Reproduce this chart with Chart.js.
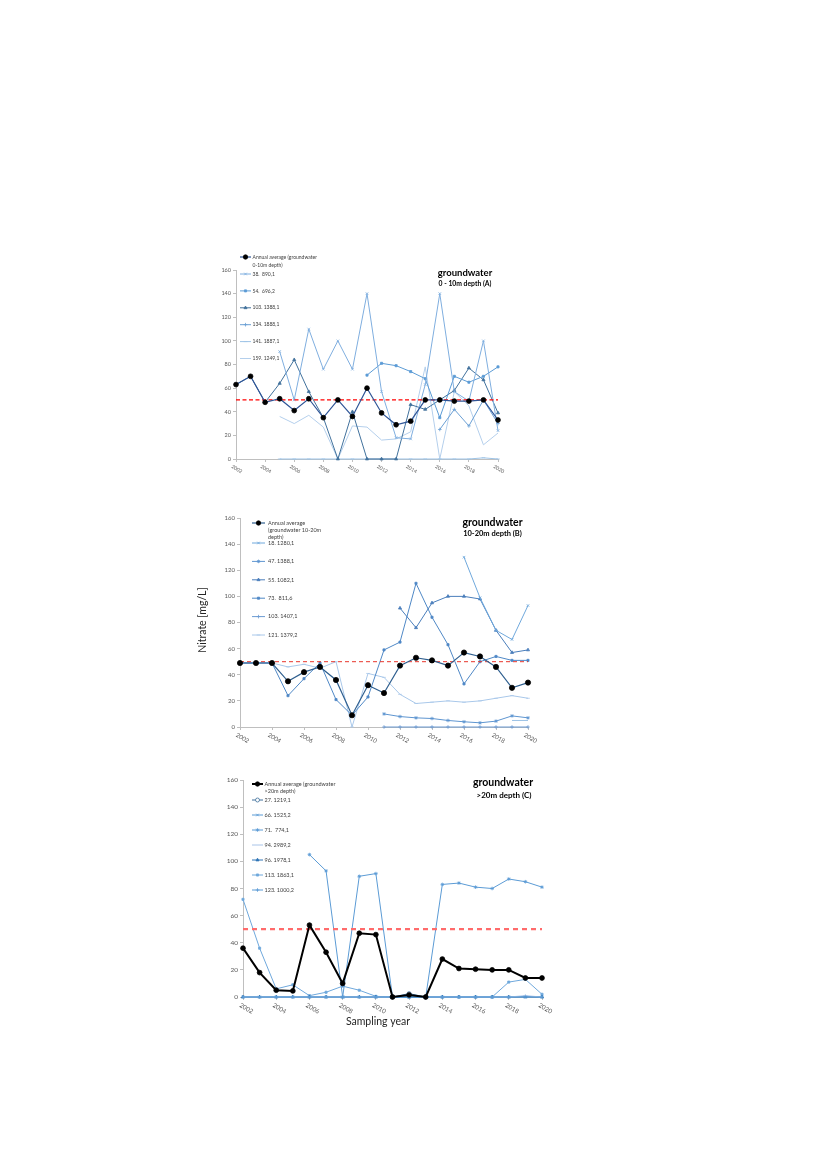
<!DOCTYPE html>
<html>
<head>
<meta charset="utf-8">
<script src="https://cdn.jsdelivr.net/npm/chart.js@4.4.1/dist/chart.umd.min.js"></script>
<style>
  html, body { margin: 0; padding: 0; background: #fff; }
  body { width: 827px; height: 1170px; position: relative; overflow: hidden; }
  canvas { position: absolute; }
  #chartA { left: 180px; top: 245px; }
  #chartB { left: 180px; top: 500px; }
  #chartC { left: 180px; top: 765px; }
</style>
</head>
<body>
<canvas id="chartA" width="340" height="240"></canvas>
<canvas id="chartB" width="360" height="250"></canvas>
<canvas id="chartC" width="380" height="270"></canvas>
<script>
// Data
const years = [2002, 2003, 2004, 2005, 2006, 2007, 2008, 2009, 2010, 2011,
  2012, 2013, 2014, 2015, 2016, 2017, 2018, 2019, 2020];
const nitrateLimit = 50; // mg/L

// Panel A: groundwater 0 - 10m depth
const avgA = [63, 70, 48, 51, 41, 51, 35, 50, 36, 60, 39, 29, 32, 50, 50, 49, 49, 50, 33];
const st38A = [null, null, null, 91, 50, 110, 76, 100, 76, 140, 57, 18, 17, 63, 140, 57, 49, 100, 24];
const st54A = [null, null, null, null, null, null, null, null, null, 71, 81, 79, 74, 68, 35, 70, 65, 70, 78];
const st103A = [63, 70, 48, 64, 84, 57, 35, 0, 40, 0, 0, 0, 46, 42, 50, 58, 77, 67, 39];
const st134A = [null, null, null, null, null, null, null, null, null, null, null, null, null, null, 25, 42, 28, 50, 30];
const st141A = [null, null, null, 0, 0, 0, 0, 0, 0, 0, 0, 0, 0, 0, 0, 0, 0, 1, 0];
const st159A = [null, null, null, 36, 30, 37, 27, 0, 28, 27, 16, 17, 23, 78, 0, 57, 45, 12, 22];

// Panel B: groundwater 10-20m depth
const avgB = [49, 49, 49, 35, 42, 46, 36, 9, 32, 26, 47, 53, 51, 47, 57, 54, 46, 30, 34];
const st18B = [null, null, null, null, null, null, null, null, null, null, null, null, null, null, 130, 99, 74, 67, 93];
const st47B = [null, null, null, null, null, null, null, null, null, 10, 8, 7, 6.5, 5, 4, 3.2, 4.5, 8.5, 7];
const st55B = [null, null, null, null, null, null, null, null, null, null, 91, 76, 95, 100, 100, 98, 74, 57, 59];
const st73B = [49, 49, 49, 24, 37, 49, 21, 9, 23, 59, 65, 110, 84, 63, 33, 50, 54, 51, 51];
const st103B = [null, null, null, null, null, null, null, null, null, 0, 0, 0, 0, 0, 0, 0, 0, 0, 0];
const st121B = [49, 49, 49, 46, 48, 45, 50, 0, 41, 38, 25, 18, 19, 20, 19, 20, 22, 24, 22];
const shortB = [null, null, null, null, null, null, null, null, null, null, null, null, null, null, null, null, null, 5, 5];

// Panel C: groundwater >20m depth
const avgC = [36, 18, 5, 4.5, 53, 33, 10, 47, 46, 0, 1.5, 0, 28, 21, 20.5, 20, 20, 14, 14];
const st27C = [null, null, null, null, null, null, null, null, null, 0, 2.5, 0, null, null, null, null, null, null, null];
const st66C = [0, 0, 0, 0, 0, 0, 0, 0, 0, 0, 0, 0, 0, 0, 0, 0, 0, 0, 0];
const st71C = [null, null, null, null, 105, 93, 0, 89, 91, 0, 0, 0, 83, 84, 81, 80, 87, 85, 81];
const st94C = [0, 0, 0, 0, 0, 0, 0, 0, 0, 0, 2, 0, 0, 0, 0, 0, 0, 1, 0];
const st96C = [0, 0, 0, 0, 0, 0, 0, 0, 0, 0, 0, 0, 0, 0, 0, 0, 0, 0, 0];
const st113C = [72, 36, 6, 9, 1, 3.5, 8, 5, 0.5, 0, 0, 0, 0, 0, 0, 0, 11, 13, 2];
const st123C = [0, 0, 0, 0, 0, 0, 0, 0, 0, 0, 0, 0, 0, 0, 0, 0, 0, 0.5, 0];

const FONT = "Lato, 'Open Sans', sans-serif";

function series(label, values, color, marker, extra) {
  return Object.assign({
    label: label,
    data: years.map((yr, i) => ({ x: yr, y: values[i] })),
    borderColor: color,
    backgroundColor: color,
    borderWidth: 1,
    pointStyle: marker || 'circle',
    pointRadius: marker ? 1.8 : 0,
    pointBorderWidth: 0.8,
    clip: false,
  }, extra || {});
}

function limitLine(color, width, dash) {
  return {
    label: 'limit',
    data: years.map((yr) => ({ x: yr, y: nitrateLimit })),
    borderColor: color,
    borderWidth: width,
    borderDash: dash,
    pointRadius: 0,
    clip: false,
    noLegend: true,
  };
}

// draws legend, titles and the slanted year labels
const panelDecor = {
  id: 'panelDecor',
  afterDraw(chart, args, opts) {
    const ctx = chart.ctx;
    const area = chart.chartArea;
    const xs = chart.scales.x;
    ctx.save();

    // year labels
    ctx.fillStyle = '#595959';
    ctx.font = opts.tickFont + 'px ' + FONT;
    ctx.textAlign = 'left';
    ctx.textBaseline = 'top';
    xs.ticks.forEach((t) => {
      ctx.save();
      ctx.translate(xs.getPixelForValue(t.value) + opts.tickDx, area.bottom + opts.tickDy);
      ctx.rotate(30 * Math.PI / 180);
      ctx.fillText(String(t.value), 0, 0);
      ctx.restore();
    });

    // legend
    const lg = opts.legend;
    let n = 0;
    chart.data.datasets.forEach((ds) => {
      if (ds.noLegend) return;
      const y = n === 0 ? lg.y0 : lg.y0 + lg.firstGap + (n - 1) * lg.step;
      n++;
      ctx.setLineDash([]);
      ctx.strokeStyle = ds.borderColor;
      ctx.lineWidth = ds.borderWidth;
      ctx.beginPath();
      ctx.moveTo(lg.x, y);
      ctx.lineTo(lg.x + lg.len, y);
      ctx.stroke();
      if (ds.pointRadius > 0) {
        ctx.fillStyle = ds.pointBackgroundColor || ds.backgroundColor;
        ctx.strokeStyle = ds.pointBorderColor || ds.borderColor;
        ctx.lineWidth = ds.pointBorderWidth;
        Chart.helpers.drawPoint(ctx, {
          pointStyle: ds.pointStyle, rotation: 0,
          radius: Math.min(ds.pointRadius, 2.2), borderWidth: ds.pointBorderWidth,
        }, lg.x + lg.len / 2, y);
      }
      ctx.fillStyle = '#404040';
      ctx.font = lg.font + 'px ' + FONT;
      ctx.textAlign = 'left';
      ctx.textBaseline = 'middle';
      ds.label.split('\n').forEach((line, k) => {
        ctx.fillText(line, lg.x + lg.len + lg.gap, y + k * lg.rowH);
      });
    });

    // titles
    (opts.texts || []).forEach((t) => {
      ctx.save();
      ctx.fillStyle = t.color || '#000';
      ctx.font = t.font + ' ' + FONT;
      ctx.textAlign = 'center';
      ctx.textBaseline = 'middle';
      ctx.translate(t.x, t.y);
      if (t.rot) ctx.rotate(t.rot * Math.PI / 180);
      ctx.fillText(t.text, 0, 0);
      ctx.restore();
    });
    ctx.restore();
  },
};

function zeroPadding(s) {
  s.paddingLeft = 0;
  s.paddingRight = 0;
  s.paddingTop = 0;
  s.paddingBottom = 0;
}

function makePanel(id, datasets, cfg) {
  return new Chart(document.getElementById(id), {
    type: 'line',
    data: { datasets: datasets },
    options: {
      responsive: false,
      animation: false,
      events: [],
      layout: { padding: cfg.padding },
      plugins: {
        legend: { display: false },
        tooltip: { enabled: false },
        panelDecor: cfg.decor,
      },
      scales: {
        x: {
          type: 'linear',
          min: 2002,
          max: 2020,
          ticks: { display: false, stepSize: 2 },
          grid: { drawOnChartArea: false, tickLength: 3, color: '#BFBFBF' },
          border: { color: '#BFBFBF' },
          afterFit(s) { s.height = 18; zeroPadding(s); },
        },
        y: {
          min: 0,
          max: 160,
          ticks: { stepSize: 20, color: '#595959', padding: 2, font: { size: cfg.yFont, family: FONT } },
          grid: { drawOnChartArea: false, tickLength: 3, color: '#BFBFBF' },
          border: { color: '#BFBFBF' },
          afterFit(s) { s.width = 24; zeroPadding(s); },
        },
      },
    },
    plugins: [panelDecor],
  });
}

// Panel A
makePanel('chartA', [
  series('Annual average (groundwater\n0-10m depth)', avgA, '#2F5597', 'circle',
    { pointRadius: 2.4, pointBackgroundColor: '#000', pointBorderColor: '#000', borderWidth: 1.2 }),
  limitLine('#FF0000', 1.3, [4, 2.5]),
  series('38.  890,1', st38A, '#7FAEDF', 'crossRot'),
  series('54.  696,2', st54A, '#5B9BD5', 'rect', { pointRadius: 1.5 }),
  series('103. 1388,1', st103A, '#41719C', 'triangle', { pointRadius: 1.8 }),
  series('134. 1888,1', st134A, '#6A9FD4', 'cross'),
  series('141. 1887,1', st141A, '#9DC3E6', 'line'),
  series('159. 1249,1', st159A, '#B4CFEC', null),
], {
  padding: { left: 32, right: 22, top: 25, bottom: 8 },
  yFont: 5.5,
  decor: {
    tickFont: 5, tickDx: -3, tickDy: 5,
    legend: { x: 60, len: 11, gap: 1.5, y0: 12, rowH: 8, firstGap: 17, step: 16.9, font: 5 },
    texts: [
      { text: 'groundwater', x: 285, y: 28, font: 'bold 9.5px' },
      { text: '0 - 10m depth (A)', x: 285, y: 38.5, font: 'bold 6.8px' },
    ],
  },
});

// Panel B
makePanel('chartB', [
  series('Annual average\n(groundwater 10-20m\ndepth)', avgB, '#2F5F8F', 'circle',
    { pointRadius: 2.6, pointBackgroundColor: '#000', pointBorderColor: '#000', borderWidth: 1.2 }),
  limitLine('#E8362C', 1, [4, 3]),
  series('18. 1280,1', st18B, '#6FA8DC', 'crossRot'),
  series('47. 1388,1', st47B, '#5E95D0', 'star'),
  series('55. 1082,1', st55B, '#4A7EBB', 'triangle'),
  series('73.  811,6', st73B, '#4F88C6', 'rect', { pointRadius: 1.5 }),
  series('103. 1407,1', st103B, '#6C9BD2', 'cross'),
  series('121. 1379,2', st121B, '#A9C8EA', 'line'),
  series('', shortB, '#9DC3E6', null, { noLegend: true }),
], {
  padding: { left: 36, right: 12, top: 18, bottom: 5 },
  yFont: 6,
  decor: {
    tickFont: 6, tickDx: -2, tickDy: 5,
    legend: { x: 72, len: 13, gap: 3, y0: 23, rowH: 7.3, firstGap: 20, step: 18.4, font: 5.5 },
    texts: [
      { text: 'groundwater', x: 312.5, y: 22.7, font: 'bold 10.5px' },
      { text: '10-20m depth (B)', x: 312.5, y: 33.5, font: 'bold 7.5px' },
      { text: 'Nitrate [mg/L]', x: 23, y: 120, font: '10.5px', rot: -90, color: '#262626' },
    ],
  },
});

// Panel C
makePanel('chartC', [
  series('Annual average (groundwater\n>20m depth)', avgC, '#000000', 'circle',
    { pointRadius: 2.4, pointBackgroundColor: '#000', pointBorderColor: '#000', borderWidth: 2 }),
  limitLine('#FF6B6B', 2.2, [5, 4]),
  series('27. 1219,1', st27C, '#41719C', 'circle', { pointBackgroundColor: '#fff', pointRadius: 2 }),
  series('66. 1525,2', st66C, '#5B9BD5', 'crossRot'),
  series('71.  774,1', st71C, '#5B9BD5', 'star'),
  series('94. 2989,2', st94C, '#A9C4E8', null),
  series('96. 1978,1', st96C, '#2E75B6', 'triangle'),
  series('113. 1863,1', st113C, '#6FA8DC', 'rect', { pointRadius: 1.5 }),
  series('123. 1000,2', st123C, '#5B9BD5', 'cross'),
], {
  padding: { left: 39, right: 18, top: 15, bottom: 20 },
  yFont: 6.5,
  decor: {
    tickFont: 6.3, tickDx: -1.5, tickDy: 5,
    legend: { x: 72, len: 11, gap: 1.5, y0: 19, rowH: 7, firstGap: 16, step: 15, font: 5.5 },
    texts: [
      { text: 'groundwater', x: 323, y: 18, font: 'bold 10.5px' },
      { text: '>20m depth (C)', x: 324, y: 30, font: 'bold 8px' },
      { text: 'Sampling year', x: 198, y: 257, font: '10.5px', color: '#262626' },
    ],
  },
});
</script>
</body>
</html>
